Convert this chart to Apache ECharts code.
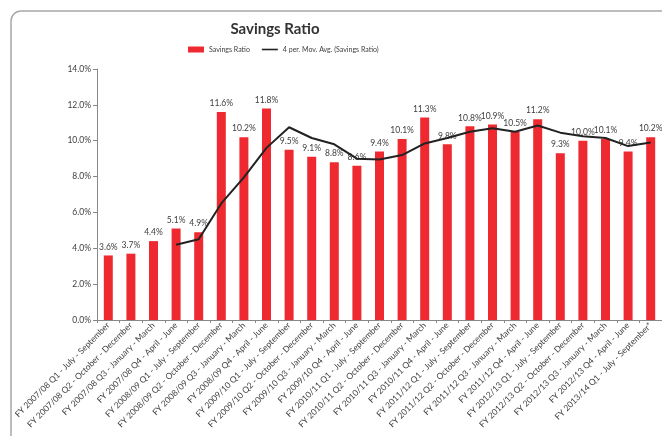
<!DOCTYPE html>
<html>
<head>
<meta charset="utf-8">
<script src="https://cdn.jsdelivr.net/npm/echarts@6/dist/echarts.min.js"></script>
<style>
  html, body { margin: 0; padding: 0; background: #fff; }
  #chart { width: 662px; height: 436px; }
</style>
</head>
<body>
<div id="chart"></div>
<script>
var categories = [
  'FY 2007/08 Q1 - July - September', 'FY 2007/08 Q2 - October - December',
  'FY 2007/08 Q3 - January - March', 'FY 2007/08 Q4 - April - June',
  'FY 2008/09 Q1 - July - September', 'FY 2008/09 Q2 - October - December',
  'FY 2008/09 Q3 - January - March', 'FY 2008/09 Q4 - April - June',
  'FY 2009/10 Q1 - July - September', 'FY 2009/10 Q2 - October - December',
  'FY 2009/10 Q3 - January - March', 'FY 2009/10 Q4 - April - June',
  'FY 2010/11 Q1 - July - September', 'FY 2010/11 Q2 - October - December',
  'FY 2010/11 Q3 - January - March', 'FY 2010/11 Q4 - April - June',
  'FY 2011/12 Q1 - July - September', 'FY 2011/12 Q2 - October - December',
  'FY 2011/12 Q3 - January - March', 'FY 2011/12 Q4 - April - June',
  'FY 2012/13 Q1 - July - September', 'FY 2012/13 Q2 - October - December',
  'FY 2012/13 Q3 - January - March', 'FY 2012/13 Q4 - April - June',
  'FY 2013/14 Q1 - July - September*'
];
var savingsRatio = [3.6, 3.7, 4.4, 5.1, 4.9, 11.6, 10.2, 11.8, 9.5, 9.1, 8.8, 8.6, 9.4,
  10.1, 11.3, 9.8, 10.8, 10.9, 10.5, 11.2, 9.3, 10.0, 10.1, 9.4, 10.2];
// moving average line (starts at 4th quarter)
var movAvg = [null, null, null, 4.2, 4.5, 6.5, 7.95, 9.6, 10.75, 10.15, 9.8, 9.0, 8.95,
  9.2, 9.85, 10.15, 10.5, 10.7, 10.5, 10.85, 10.45, 10.25, 10.15, 9.7, 9.9];

var myChart = echarts.init(document.getElementById('chart'));
var txt = '#404040';
var font = 'Lato, "Open Sans", sans-serif';

var option = {
  animation: false,
  textStyle: { fontFamily: font },
  graphic: [{
    type: 'rect',
    shape: { x: 11, y: 11, width: 680, height: 440, r: 10 },
    style: { fill: 'none', stroke: '#a8a8a8', lineWidth: 1.5 },
    z: -1
  }],
  title: {
    text: 'Savings Ratio',
    left: 270, top: 17,
    textAlign: 'center',
    textStyle: { fontSize: 15, fontWeight: 'bold', color: '#333', fontFamily: font }
  },
  legend: {
    top: 41, left: 183,
    itemGap: 12,
    itemWidth: 16, itemHeight: 6,
    textStyle: { fontSize: 7, color: txt },
    data: [
      { name: 'Savings Ratio', icon: 'rect' },
      { name: '4 per. Mov. Avg. (Savings Ratio)', icon: 'path://M0,4L20,4L20,6L0,6Z' }
    ]
  },
  grid: { left: 97, right: -3, top: 69, bottom: 116 },
  xAxis: {
    type: 'category',
    data: categories,
    axisLine: { lineStyle: { color: '#888' } },
    axisTick: { show: true, alignWithLabel: false, length: 3, lineStyle: { color: '#888' } },
    axisLabel: { rotate: 45, interval: 0, fontSize: 8.5, color: txt, margin: 4 }
  },
  yAxis: {
    type: 'value',
    min: 0, max: 14, interval: 2,
    axisLine: { show: true, lineStyle: { color: '#888' } },
    axisTick: { show: true, length: 4, lineStyle: { color: '#888' } },
    splitLine: { show: false },
    axisLabel: { fontSize: 8.5, color: txt, margin: 6,
      formatter: function (v) { return v.toFixed(1) + '%'; } }
  },
  series: [{
    name: 'Savings Ratio',
    type: 'bar',
    data: savingsRatio,
    barWidth: 9,
    itemStyle: { color: '#ee2a30' },
    label: { show: true, position: 'top', distance: 4, fontSize: 8.5, color: txt,
      formatter: function (p) { return p.value.toFixed(1) + '%'; } }
  }, {
    name: '4 per. Mov. Avg. (Savings Ratio)',
    type: 'line',
    data: movAvg,
    symbol: 'none',
    itemStyle: { color: '#222' },
    lineStyle: { color: '#222', width: 2 }
  }]
};

myChart.setOption(option);
</script>
</body>
</html>
